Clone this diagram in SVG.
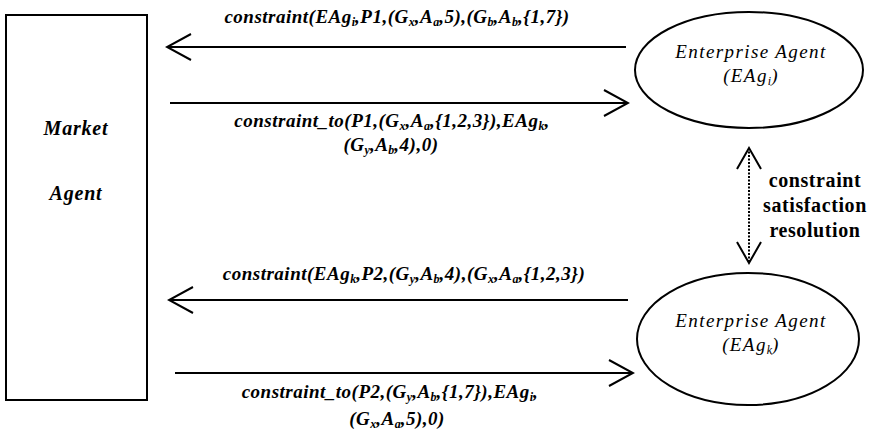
<svg xmlns="http://www.w3.org/2000/svg" width="873" height="436" viewBox="0 0 873 436">
<defs>
<style>
text{font-family:"Liberation Serif","Times New Roman","DejaVu Serif","Noto Serif",Times,serif;fill:#000;text-anchor:middle}
.lbl{font-style:italic;font-weight:bold;font-size:19px;letter-spacing:0.5px}
.ma{font-style:italic;font-weight:bold;font-size:20px;letter-spacing:0.8px}
.node{font-style:italic;font-size:19px;letter-spacing:1.4px}
.bold{font-weight:bold;font-size:20px;letter-spacing:0.6px}
.s{font-size:12px;baseline-shift:-3px;letter-spacing:0}
.edge{stroke:#000;stroke-width:2;fill:none}
.shape{stroke:#000;stroke-width:2;fill:#fff}
</style>
<marker id="ah" viewBox="0 0 27 28" refX="25" refY="14" markerWidth="27" markerHeight="28" markerUnits="userSpaceOnUse" orient="auto-start-reverse">
<path d="M1,1 L25,14 L1,27" fill="none" stroke="#000" stroke-width="2"/>
</marker>
<marker id="ah2" viewBox="0 0 24 26" refX="22" refY="13" markerWidth="24" markerHeight="26" markerUnits="userSpaceOnUse" orient="auto-start-reverse">
<path d="M1,1 L22,13 L1,25" fill="none" stroke="#000" stroke-width="2"/>
</marker>
</defs>
<rect width="873" height="436" fill="#fff"/>
<g id="market-agent">
<rect class="shape" x="6" y="15" width="141" height="385"/>
<text class="ma" x="76" y="135">Market</text>
<text class="ma" x="76" y="200">Agent</text>
</g>
<g id="enterprise-agent-i">
<ellipse class="shape" cx="749" cy="70" rx="114" ry="58"/>
<text class="node" x="751" y="58">Enterprise Agent</text>
<text class="node" x="751" y="82">(EAg<tspan class="s">i</tspan>)</text>
</g>
<g id="enterprise-agent-k">
<ellipse class="shape" cx="748" cy="339" rx="111" ry="66"/>
<text class="node" x="751" y="327">Enterprise Agent</text>
<text class="node" x="751" y="351">(EAg<tspan class="s">k</tspan>)</text>
</g>
<g id="connectors">
<line class="edge" x1="626" y1="47" x2="167" y2="47" marker-end="url(#ah)"/>
<line class="edge" x1="170" y1="103" x2="628" y2="103" marker-end="url(#ah)"/>
<line class="edge" x1="628" y1="300" x2="169" y2="300" marker-end="url(#ah)"/>
<line class="edge" x1="175" y1="373" x2="633" y2="373" marker-end="url(#ah)"/>
<line x1="749" y1="148" x2="749" y2="263" stroke="#000" stroke-width="2" stroke-dasharray="2,1.5" marker-start="url(#ah2)" marker-end="url(#ah2)"/>
</g>
<g id="labels">
<text class="lbl" x="397" y="23">constraint(EAg<tspan class="s">i</tspan>,P1,(G<tspan class="s">x</tspan>,A<tspan class="s">a</tspan>,5),(G<tspan class="s">b</tspan>,A<tspan class="s">b</tspan>,{1,7})</text>
<text class="lbl" x="392" y="127">constraint_to(P1,(G<tspan class="s">x</tspan>,A<tspan class="s">a</tspan>,{1,2,3}),EAg<tspan class="s">k</tspan>,</text>
<text class="lbl" x="391" y="151">(G<tspan class="s">y</tspan>,A<tspan class="s">b</tspan>,4),0)</text>
<text class="lbl" x="404" y="280">constraint(EAg<tspan class="s">k</tspan>,P2,(G<tspan class="s">y</tspan>,A<tspan class="s">b</tspan>,4),(G<tspan class="s">x</tspan>,A<tspan class="s">a</tspan>,{1,2,3})</text>
<text class="lbl" x="390" y="398">constraint_to(P2,(G<tspan class="s">y</tspan>,A<tspan class="s">b</tspan>,{1,7}),EAg<tspan class="s">i</tspan>,</text>
<text class="lbl" x="397" y="425">(G<tspan class="s">x</tspan>,A<tspan class="s">a</tspan>,5),0)</text>
<text class="bold" x="815" y="187">constraint</text>
<text class="bold" x="815" y="212">satisfaction</text>
<text class="bold" x="815" y="237">resolution</text>
</g>
</svg>
